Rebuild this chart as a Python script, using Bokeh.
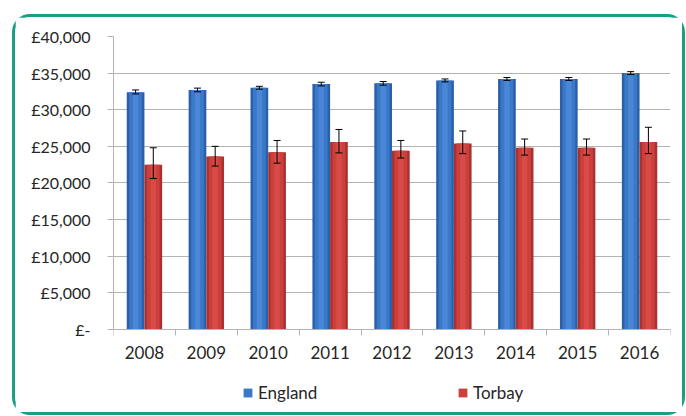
import numpy as np
from bokeh.plotting import figure
from bokeh.models import (ColumnDataSource, FixedTicker, Whisker, Legend, LegendItem,
                          TeeHead, Range1d)
from bokeh.embed import file_html
from bokeh.resources import INLINE

# ---- data ----
years = ["2008", "2009", "2010", "2011", "2012", "2013", "2014", "2015", "2016"]
england = [32400, 32700, 33000, 33500, 33600, 34000, 34200, 34200, 35000]
england_lower = [32150, 32450, 32800, 33250, 33350, 33800, 34000, 34000, 34800]
england_upper = [32700, 32950, 33200, 33750, 33850, 34200, 34400, 34400, 35200]
torbay = [22500, 23600, 24200, 25600, 24400, 25400, 24800, 24800, 25600]
torbay_lower = [20600, 22300, 22700, 24100, 23400, 24000, 23800, 23800, 24000]
torbay_upper = [24800, 25000, 25800, 27300, 25800, 27100, 26000, 26000, 27600]
y_ticks = [0, 5000, 10000, 15000, 20000, 25000, 30000, 35000, 40000]
y_tick_labels = ["£-", "£5,000", "£10,000", "£15,000", "£20,000", "£25,000",
                 "£30,000", "£35,000", "£40,000"]

FONT = "Lato"
TEXT = "#262626"
GRID = "#b3b3b3"

idx = np.arange(len(years))
bw = 0.286
eng_src = ColumnDataSource(dict(x=idx + 0.5 - bw / 2, top=england,
                                lo=england_lower, hi=england_upper))
tor_src = ColumnDataSource(dict(x=idx + 0.5 + bw / 2, top=torbay,
                                lo=torbay_lower, hi=torbay_upper))

# the frame extends below zero so that axis labels and legend sit inside it
p = figure(width=673, height=401, output_backend="svg", toolbar_location=None,
           x_range=Range1d(0, len(years)), y_range=Range1d(-10400, 40000),
           min_border_left=98, min_border_right=18, min_border_top=19,
           min_border_bottom=13)
p.styles = {"border": "3px solid #1a9f84", "border-radius": "18px",
            "margin-left": "12px", "margin-top": "14px"}
p.outline_line_color = None
p.background_fill_color = "white"
p.border_fill_color = "white"

# England bars (cylinder-like shading)
p.vbar(x="x", top="top", width=bw, source=eng_src, fill_color="#2b5fa8", line_color=None)
eng_main = p.vbar(x="x", top="top", width=bw * 0.72, source=eng_src,
                  fill_color="#3a78c8", line_color=None)
p.vbar(x="x", top="top", width=bw * 0.3, source=eng_src,
       fill_color="#4a87d6", line_color=None)

# Torbay bars
p.vbar(x="x", top="top", width=bw, source=tor_src, fill_color="#a83230", line_color=None)
tor_main = p.vbar(x="x", top="top", width=bw * 0.72, source=tor_src,
                  fill_color="#cc3f3b", line_color=None)
p.vbar(x="x", top="top", width=bw * 0.3, source=tor_src,
       fill_color="#d84b46", line_color=None)

for src in (eng_src, tor_src):
    w = Whisker(base="x", lower="lo", upper="hi", source=src, line_color="black",
                line_width=1, level="overlay",
                upper_head=TeeHead(size=7, line_color="black", line_width=1),
                lower_head=TeeHead(size=7, line_color="black", line_width=1))
    p.add_layout(w)

# axes
p.xgrid.grid_line_color = None
p.ygrid.grid_line_color = GRID
p.ygrid.ticker = FixedTicker(ticks=y_ticks)

p.yaxis.ticker = FixedTicker(ticks=y_ticks)
p.yaxis.bounds = (y_ticks[0], y_ticks[-1])
p.yaxis.major_label_overrides = {t: l for t, l in zip(y_ticks, y_tick_labels)}
p.yaxis.axis_line_color = GRID
p.yaxis.major_tick_line_color = GRID
p.yaxis.major_tick_out = 6
p.yaxis.major_tick_in = 0
p.yaxis.minor_tick_line_color = None
p.yaxis.major_label_standoff = 17
p.yaxis.major_label_text_font = FONT
p.yaxis.major_label_text_font_size = "16px"
p.yaxis.major_label_text_color = TEXT

x_centers = [float(i) + 0.5 for i in idx]
p.xaxis.fixed_location = 0
p.xaxis.ticker = FixedTicker(ticks=x_centers, minor_ticks=[float(i) for i in range(len(years) + 1)])
p.xaxis.major_label_overrides = {c: y for c, y in zip(x_centers, years)}
p.xaxis.axis_line_color = GRID
p.xaxis.major_tick_line_color = None
p.xaxis.major_tick_out = 0
p.xaxis.major_tick_in = 0
p.xaxis.minor_tick_line_color = GRID
p.xaxis.minor_tick_out = 6
p.xaxis.minor_tick_in = 0
p.xaxis.major_label_standoff = 11
p.xaxis.major_label_text_font = FONT
p.xaxis.major_label_text_font_size = "17px"
p.xaxis.major_label_text_color = TEXT

legend = Legend(items=[LegendItem(label="England", renderers=[eng_main]),
                       LegendItem(label="Torbay", renderers=[tor_main])],
                orientation="horizontal", location=(129, 2),
                glyph_width=11, glyph_height=11, label_standoff=5,
                label_width=68, spacing=131, padding=0, margin=0,
                label_text_font=FONT, label_text_font_size="17px",
                label_text_color=TEXT, border_line_color=None,
                background_fill_alpha=0)
p.add_layout(legend, "center")

open("out.html", "w").write(file_html(p, INLINE))
